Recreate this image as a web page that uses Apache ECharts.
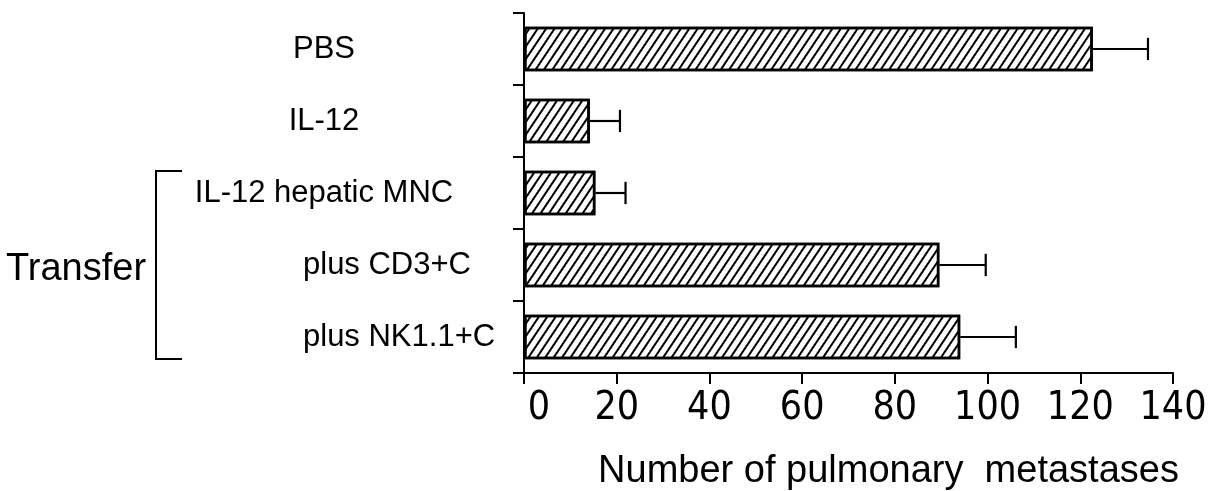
<!DOCTYPE html>
<html>
<head>
<meta charset="utf-8">
<script src="https://cdn.jsdelivr.net/npm/echarts@6/dist/echarts.min.js"></script>
<style>
html,body{margin:0;padding:0;background:#fff;}
#chart{width:1223px;height:491px;}
</style>
</head>
<body>
<div id="chart"></div>
<script>
// ---- data ----
const categories = ['PBS', 'IL-12', 'IL-12 hepatic MNC', 'plus CD3+C', 'plus NK1.1+C'];
const meanValues = [122.7, 14.2, 15.4, 89.6, 94.1];
const errorValues = [11.9, 6.5, 6.5, 10.0, 12.0];
const xTicks = [0, 20, 40, 60, 80, 100, 120, 140];
const axisTitle = 'Number of pulmonary  metastases';
const groupLabel = 'Transfer';
const groupedCategories = ['plus CD3+C', 'plus NK1.1+C'];

const chart = echarts.init(document.getElementById('chart'), null, {renderer: 'canvas'});

const narrowFont = "'DejaVu Sans Condensed', 'Liberation Sans Narrow', sans-serif";
const sansFont = "'Liberation Sans', Arial, sans-serif";

const option = {
  backgroundColor: '#fff',
  animation: false,
  grid: {left: 524, right: 50, top: 13, bottom: 118, containLabel: false, outerBoundsMode: 'none'},
  xAxis: {
    type: 'value',
    min: xTicks[0],
    max: xTicks[xTicks.length - 1],
    interval: xTicks[1] - xTicks[0],
    splitLine: {show: false},
    axisLine: {show: true, lineStyle: {color: '#000', width: 2}},
    axisTick: {show: true, length: 11, lineStyle: {color: '#000', width: 2}},
    axisLabel: {
      color: '#000', fontSize: 39, fontFamily: narrowFont, margin: 16,
      formatter: v => v === 0 ? '{z|0}' : String(v),
      rich: {z: {fontSize: 39, fontFamily: narrowFont, color: '#000', padding: [0, 0, 0, 30]}}
    },
    name: axisTitle,
    nameLocation: 'middle',
    nameGap: 80,
    nameTextStyle: {color: '#000', fontSize: 38, fontFamily: sansFont, padding: [0, 0, 0, 80]}
  },
  yAxis: {
    type: 'category',
    inverse: true,
    data: categories,
    axisLine: {show: true, lineStyle: {color: '#000', width: 2}},
    axisTick: {show: true, length: 11, lineStyle: {color: '#000', width: 2}},
    axisLabel: {
      align: 'left',
      margin: 331,
      color: '#000',
      fontSize: 31,
      fontFamily: sansFont,
      formatter: v => groupedCategories.indexOf(v) >= 0 ? '{l|' + v + '}' : '{c|' + v + '}',
      rich: {
        c: {width: 262, align: 'center', fontSize: 31, fontFamily: sansFont, color: '#000'},
        l: {padding: [0, 0, 0, 110], fontSize: 31, fontFamily: sansFont, color: '#000'}
      }
    }
  },
  series: [
    {
      type: 'bar',
      data: meanValues,
      barCategoryGap: '38%',
      itemStyle: {
        color: '#fff',
        borderColor: '#000',
        borderWidth: 2.5,
        decal: {
          symbol: 'rect',
          symbolSize: 1,
          color: '#000',
          dashArrayX: [1, 0],
          dashArrayY: [2, 5],
          rotation: -Math.PI / 3.2
        }
      },
      z: 2
    },
    {
      type: 'custom',
      data: meanValues.map((v, i) => [v, i, errorValues[i]]),
      encode: {x: 0, y: 1},
      z: 3,
      renderItem: function (params, api) {
        const v = api.value(0), c = api.value(1), e = api.value(2);
        const p0 = api.coord([v, c]);
        const p1 = api.coord([v + e, c]);
        const band = api.size([0, 1])[1];
        const hh = band * 0.155;
        const style = {stroke: '#000', lineWidth: 2.2, fill: null};
        return {
          type: 'group',
          children: [
            {type: 'line', shape: {x1: p0[0], y1: p0[1], x2: p1[0], y2: p1[1]}, style: style},
            {type: 'line', shape: {x1: p1[0], y1: p1[1] - hh, x2: p1[0], y2: p1[1] + hh}, style: style}
          ]
        };
      }
    }
  ],
  graphic: [
    {
      type: 'text',
      left: 6,
      top: 251,
      style: {text: groupLabel, fontSize: 38, fontFamily: sansFont, fill: '#000'}
    },
    {
      type: 'polyline',
      shape: {points: [[182, 171], [156, 171], [156, 359], [182, 359]]},
      style: {stroke: '#000', lineWidth: 2, fill: null}
    }
  ]
};

chart.setOption(option);
</script>
</body>
</html>
